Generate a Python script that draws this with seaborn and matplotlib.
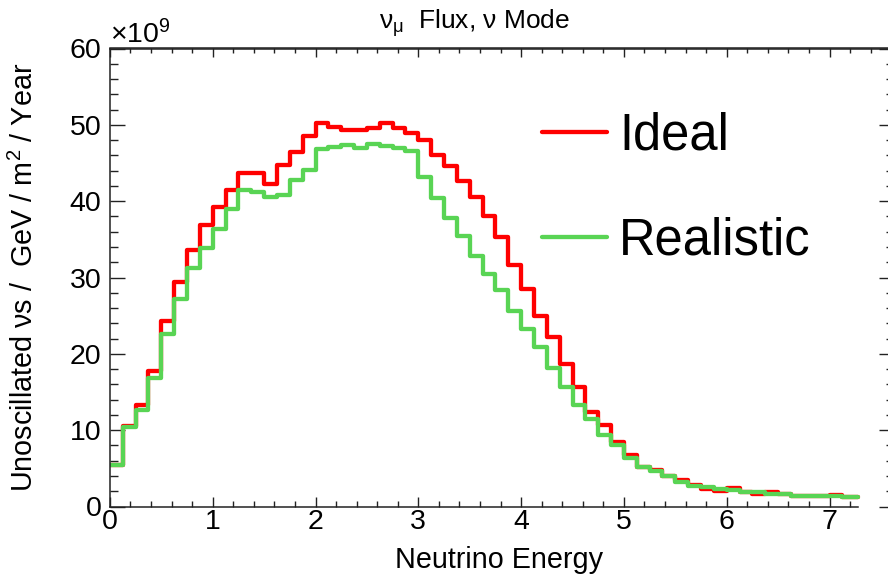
import numpy as np
import pandas as pd
import matplotlib
matplotlib.use("Agg")
import matplotlib.pyplot as plt
import seaborn as sns
from matplotlib.ticker import FixedLocator, MultipleLocator, NullFormatter

# Energy binning in GeV: 0.125 GeV bins, the last one cut at the axis end
bin_width = 0.125
n_full_bins = 58
x_end = 7.28
edges = [round(k * bin_width, 3) for k in range(n_full_bins + 1)] + [x_end]
centers = [0.5 * (a + b) for a, b in zip(edges[:-1], edges[1:])]

# Unoscillated muon-neutrino flux per bin, in units of 1e9 / GeV / m^2 / year
ideal = [5.4, 10.6, 13.3, 17.7, 24.35, 29.4, 33.6, 36.9, 39.3, 41.5,
         43.7, 43.7, 42.3, 44.8, 46.45, 48.5, 50.2, 49.7, 49.3, 49.3,
         49.6, 50.3, 49.65, 48.9, 48.0, 46.0, 44.6, 42.7, 40.5, 38.1,
         35.3, 31.6, 28.55, 25.0, 22.2, 18.7, 15.65, 12.4, 10.7, 8.4,
         6.7, 5.15, 4.8, 4.05, 3.45, 2.8, 2.35, 2.0, 2.4, 1.95,
         1.65, 1.85, 1.65, 1.4, 1.4, 1.4, 1.55, 1.2, 1.2]
realistic = [5.4, 10.35, 12.7, 16.8, 22.6, 27.2, 31.2, 33.8, 36.4, 39.0,
             41.5, 41.2, 40.5, 40.8, 42.8, 44.1, 46.8, 47.1, 47.3, 47.0,
             47.55, 47.25, 46.9, 46.6, 43.2, 40.4, 37.8, 35.5, 32.8, 30.5,
             28.4, 25.6, 23.2, 20.9, 18.1, 15.7, 13.3, 11.4, 9.4, 8.0,
             6.4, 5.15, 4.6, 3.95, 3.2, 2.75, 2.5, 2.25, 2.15, 1.95,
             1.9, 1.7, 1.65, 1.4, 1.4, 1.4, 1.4, 1.2, 1.2]

series_names = ["Ideal", "Realistic"]
series_colors = ["#ff0000", "#59d454"]
x_major_ticks = list(range(0, 8))
y_major_step, y_minor_step = 10, 2

sns.set_theme(style="ticks")
plt.rcParams.update({
    "font.family": ["Liberation Sans", "DejaVu Sans"],
    "mathtext.fontset": "custom",
    "mathtext.rm": "Liberation Sans",
    "mathtext.it": "Liberation Sans",
    "mathtext.sf": "Liberation Sans",
    "mathtext.bf": "Liberation Sans:bold",
    "axes.linewidth": 1.1,
    "axes.edgecolor": "#222222",
    "text.color": "black",
    "axes.labelcolor": "black",
    "xtick.color": "black",
    "ytick.color": "black",
})

df = pd.DataFrame({"energy": centers, "Ideal": ideal, "Realistic": realistic})

W, H = 888, 577
fig = plt.figure(figsize=(W / 100, H / 100), dpi=100)
ax = fig.add_axes([109.9 / W, (H - 506.5) / H, (894 - 109.9) / W, (506.5 - 48.5) / H])

for name, color in zip(series_names, series_colors):
    sns.histplot(data=df, x="energy", weights=name, bins=edges,
                 element="step", fill=False, color=color, linewidth=3.1,
                 label=name, ax=ax)

ax.set_xlim(0, (894 - 109.9) / 102.8)
ax.set_ylim(0, 60)
ax.set_xlabel("")
ax.set_ylabel("")

# bottom axis only spans the histogram range
ax.spines["bottom"].set_bounds(0, x_end)
ax.xaxis.set_major_locator(FixedLocator(x_major_ticks))
minor_x = [t for t in np.round(np.arange(0, x_end, 0.2), 2) if abs(t - round(t)) > 1e-6]
ax.xaxis.set_minor_locator(FixedLocator(minor_x))
ax.yaxis.set_major_locator(MultipleLocator(y_major_step))
ax.yaxis.set_minor_locator(MultipleLocator(y_minor_step))

ax.tick_params(axis="both", which="both", direction="in", width=1.0, color="#222222")
ax.tick_params(axis="x", which="major", length=7.2, top=False, pad=2, labelsize=20.5)
ax.tick_params(axis="x", which="minor", length=4.5, top=False)
ax.tick_params(axis="y", which="major", length=10.8, left=True, right=True, pad=6, labelsize=20.5)
ax.tick_params(axis="y", which="minor", length=5.8, left=True, right=True)

# top frame ticks
sec = ax.secondary_xaxis("top")
sec.xaxis.set_major_locator(MultipleLocator(1))
sec.xaxis.set_minor_locator(MultipleLocator(0.2))
sec.xaxis.set_major_formatter(NullFormatter())
sec.tick_params(axis="x", which="both", direction="in", width=1.0, color="#222222")
sec.tick_params(axis="x", which="major", length=6.2)
sec.tick_params(axis="x", which="minor", length=3.8)
sec.spines["top"].set_linewidth(1.1)

fig.text(110 / W, (H - 43.3) / H, "×10$^{9}$", ha="left", va="baseline", fontsize=20.5)
fig.text(474 / W, (H - 29.3) / H, r"$\nu_{\mu}$  Flux, $\nu$ Mode",
         ha="center", va="baseline", fontsize=19)
fig.text(499 / W, (H - 568) / H, "Neutrino Energy", ha="center", va="baseline", fontsize=20.7)
fig.text(24 / W, (H - 277.5) / H, "Unoscillated νs /  GeV / m$^{2}$ / Year",
         ha="center", va="center", rotation=90, fontsize=20.7)

ax.legend(loc="center left", bbox_to_anchor=(541.7 / W, (H - 188.4) / H),
          bbox_transform=fig.transFigure, frameon=False, fontsize=36.5,
          handlelength=1.28, handletextpad=0.25, labelspacing=1.11,
          borderpad=0, borderaxespad=0)

fig.savefig("out.png", dpi=100)
